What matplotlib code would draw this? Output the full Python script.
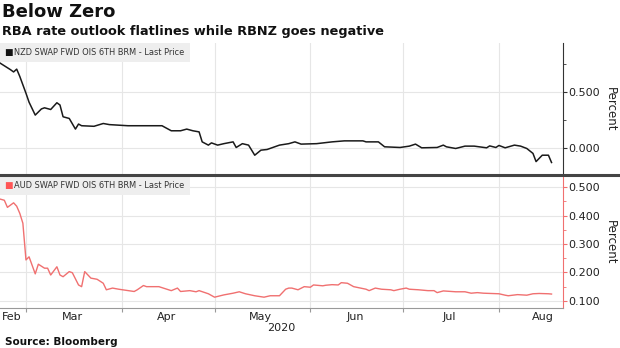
import datetime as dt

import matplotlib.dates as mdates
import matplotlib.pyplot as plt
import pandas as pd
from matplotlib.lines import Line2D
from matplotlib.patches import Rectangle
from matplotlib.ticker import FixedLocator, MultipleLocator

# NZD swap fwd OIS 6th BRM (percent)
nzd_dates = ['2020-02-21', '2020-02-25', '2020-02-26', '2020-02-27', '2020-02-28',
             '2020-03-01', '2020-03-02', '2020-03-04', '2020-03-06', '2020-03-07',
             '2020-03-09', '2020-03-11', '2020-03-12', '2020-03-13', '2020-03-15',
             '2020-03-17', '2020-03-18', '2020-03-19', '2020-03-23', '2020-03-26',
             '2020-03-28', '2020-04-03', '2020-04-14', '2020-04-17', '2020-04-20',
             '2020-04-22', '2020-04-24', '2020-04-26', '2020-04-27', '2020-04-29',
             '2020-04-30', '2020-05-02', '2020-05-04', '2020-05-07', '2020-05-08',
             '2020-05-10', '2020-05-12', '2020-05-14', '2020-05-16', '2020-05-18',
             '2020-05-22', '2020-05-25', '2020-05-27', '2020-05-29', '2020-06-03',
             '2020-06-08', '2020-06-12', '2020-06-18', '2020-06-19', '2020-06-23',
             '2020-06-25', '2020-06-30', '2020-07-03', '2020-07-05', '2020-07-07',
             '2020-07-12', '2020-07-14', '2020-07-15', '2020-07-18', '2020-07-21',
             '2020-07-24', '2020-07-28', '2020-07-29', '2020-07-31', '2020-08-01',
             '2020-08-03', '2020-08-06', '2020-08-08', '2020-08-10', '2020-08-12',
             '2020-08-13', '2020-08-15', '2020-08-17', '2020-08-18']
nzd_vals = [0.77, 0.70, 0.68, 0.705, 0.64,
            0.49, 0.41, 0.295, 0.35, 0.36,
            0.345, 0.405, 0.385, 0.28, 0.265,
            0.17, 0.215, 0.20, 0.195, 0.22,
            0.21, 0.20, 0.20, 0.155, 0.155,
            0.17, 0.155, 0.145, 0.056, 0.027,
            0.047, 0.027, 0.04, 0.056, 0.006,
            0.04, 0.027, -0.063, -0.018, -0.012,
            0.027, 0.04, 0.056, 0.036, 0.04,
            0.056, 0.065, 0.065, 0.056, 0.056,
            0.012, 0.006, 0.018, 0.036, 0.003,
            0.006, 0.027, 0.012, -0.003, 0.018,
            0.018, 0.003, 0.02, 0.006, 0.024,
            0.003, 0.027, 0.018, -0.003, -0.047,
            -0.12, -0.063, -0.063, -0.128]

# AUD swap fwd OIS 6th BRM (percent)
aud_dates = ['2020-02-21', '2020-02-23', '2020-02-24', '2020-02-26', '2020-02-27',
             '2020-02-28', '2020-02-29', '2020-03-01', '2020-03-02', '2020-03-04',
             '2020-03-05', '2020-03-07', '2020-03-08', '2020-03-09', '2020-03-11',
             '2020-03-12', '2020-03-13', '2020-03-15', '2020-03-16', '2020-03-18',
             '2020-03-19', '2020-03-20', '2020-03-22', '2020-03-24', '2020-03-26',
             '2020-03-27', '2020-03-29', '2020-03-31', '2020-04-05', '2020-04-06',
             '2020-04-08', '2020-04-09', '2020-04-13', '2020-04-17', '2020-04-19',
             '2020-04-20', '2020-04-23', '2020-04-25', '2020-04-26', '2020-04-29',
             '2020-05-01', '2020-05-04', '2020-05-07', '2020-05-09', '2020-05-11',
             '2020-05-14', '2020-05-17', '2020-05-19', '2020-05-22', '2020-05-24',
             '2020-05-25', '2020-05-26', '2020-05-28', '2020-05-30', '2020-06-01',
             '2020-06-02', '2020-06-05', '2020-06-06', '2020-06-08', '2020-06-10',
             '2020-06-11', '2020-06-13', '2020-06-15', '2020-06-19', '2020-06-20',
             '2020-06-22', '2020-06-24', '2020-06-27', '2020-06-28', '2020-06-30',
             '2020-07-02', '2020-07-03', '2020-07-06', '2020-07-09', '2020-07-11',
             '2020-07-12', '2020-07-14', '2020-07-18', '2020-07-21', '2020-07-23',
             '2020-07-25', '2020-07-27', '2020-08-01', '2020-08-03', '2020-08-04',
             '2020-08-07', '2020-08-10', '2020-08-12', '2020-08-14', '2020-08-17',
             '2020-08-18']
aud_vals = [0.460, 0.454, 0.429, 0.445, 0.433,
            0.408, 0.373, 0.244, 0.255, 0.195,
            0.229, 0.215, 0.215, 0.191, 0.220,
            0.191, 0.185, 0.203, 0.199, 0.156,
            0.150, 0.203, 0.180, 0.176, 0.162,
            0.139, 0.145, 0.141, 0.133, 0.139,
            0.154, 0.150, 0.150, 0.136, 0.145,
            0.133, 0.136, 0.132, 0.136, 0.125,
            0.113, 0.121, 0.127, 0.132, 0.125,
            0.118, 0.113, 0.118, 0.118, 0.141,
            0.145, 0.145, 0.139, 0.150, 0.148,
            0.156, 0.153, 0.155, 0.157, 0.156,
            0.164, 0.162, 0.150, 0.141, 0.136,
            0.145, 0.141, 0.139, 0.136, 0.141,
            0.145, 0.141, 0.139, 0.136, 0.136,
            0.129, 0.135, 0.132, 0.132, 0.127,
            0.129, 0.127, 0.125, 0.120, 0.118,
            0.122, 0.120, 0.125, 0.126, 0.125,
            0.124]

month_starts = ['2020-03-01', '2020-04-01', '2020-05-01', '2020-06-01',
                '2020-07-01', '2020-08-01']
month_labels = ['Feb', 'Mar', 'Apr', 'May', 'Jun', 'Jul', 'Aug']
month_label_pos = ['2020-02-25 12:00', '2020-03-16 00:00', '2020-04-15 12:00',
                   '2020-05-16 00:00', '2020-06-15 12:00', '2020-07-16 00:00',
                   '2020-08-15 06:00']

nzd_x = pd.to_datetime(nzd_dates)
aud_x = pd.to_datetime(aud_dates)
x_left = dt.datetime(2020, 3, 1) - dt.timedelta(days=8.4)
x_right = dt.datetime(2020, 8, 1) + dt.timedelta(days=20.7)

GRID = '#e6e6e6'
TXT = '#222222'
RED = '#f07070'

fig = plt.figure(figsize=(6.2, 3.48), dpi=100)
ax1 = fig.add_axes([0.0, 0.497, 0.908, 0.380])
ax2 = fig.add_axes([0.0, 0.115, 0.908, 0.379], sharex=ax1)

ax1.plot(nzd_x, nzd_vals, color='#1a1a1a', lw=1.1)
ax2.plot(aud_x, aud_vals, color=RED, lw=1.0)

ax1.set_ylim(-0.24, 0.94)
ax2.set_ylim(0.075, 0.539)
ax1.set_xlim(x_left, x_right)

for ax in (ax1, ax2):
    ax.yaxis.tick_right()
    ax.yaxis.set_label_position('right')
    ax.set_ylabel('Percent', rotation=270, labelpad=12, fontsize=8.5, color=TXT)
    ax.xaxis.set_major_locator(FixedLocator(mdates.date2num(pd.to_datetime(month_starts))))
    ax.grid(True, which='major', color=GRID, lw=0.8)
    ax.set_axisbelow(True)
    for s in ('left', 'top'):
        ax.spines[s].set_visible(False)
    ax.tick_params(axis='y', which='major', length=3, labelsize=8, colors=TXT, pad=1)
    ax.tick_params(axis='y', which='minor', length=2)

ax1.yaxis.set_major_locator(MultipleLocator(0.5))
ax1.yaxis.set_minor_locator(MultipleLocator(0.25))
ax1.yaxis.set_major_formatter(lambda v, p: f'{v:.3f}')
ax1.spines['bottom'].set_visible(False)
ax1.spines['right'].set_color('#333333')
ax1.tick_params(axis='x', which='both', length=0, labelbottom=False)
ax1.tick_params(axis='y', which='both', color='#333333')

ax2.yaxis.set_major_locator(MultipleLocator(0.1))
ax2.yaxis.set_minor_locator(MultipleLocator(0.05))
ax2.yaxis.set_major_formatter(lambda v, p: f'{v:.3f}')
ax2.spines['right'].set_color(RED)
ax2.spines['bottom'].set_color('#999999')
ax2.tick_params(axis='y', which='both', color=RED)
ax2.tick_params(axis='x', which='major', length=3, color='#999999', labelbottom=False)
ax2.xaxis.set_minor_locator(FixedLocator(mdates.date2num(pd.to_datetime(month_label_pos))))
ax2.xaxis.set_minor_formatter(lambda v, p: month_labels[p])
ax2.tick_params(axis='x', which='minor', length=0, labelsize=8, colors=TXT, pad=3)
ax2.text(0.5, -0.115, '2020', transform=ax2.transAxes, ha='center', va='top',
         fontsize=8, color=TXT)

# legend boxes
for ax, label, col in ((ax1, 'NZD SWAP FWD OIS 6TH BRM - Last Price', '#111111'),
                       (ax2, 'AUD SWAP FWD OIS 6TH BRM - Last Price', '#ff5555')):
    ax.add_patch(Rectangle((0, 1), 0.338, -0.145, transform=ax.transAxes,
                           facecolor='#eeeeee', edgecolor='none', zorder=3))
    ax.text(0.008, 1 - 0.0725, '\u25a0', transform=ax.transAxes, va='center',
            fontsize=6.5, color=col, zorder=4)
    ax.text(0.024, 1 - 0.0725, label, transform=ax.transAxes, va='center',
            fontsize=5.95, color='#333333', zorder=4)

# separator between panels
fig.add_artist(Line2D([0, 1], [1 - 175 / 348] * 2, transform=fig.transFigure,
                      color='#444444', lw=2.2))

fig.text(0.004, 0.965, 'Below Zero', fontsize=13, fontweight='bold',
         color='#111111', va='center')
fig.text(0.004, 0.91, 'RBA rate outlook flatlines while RBNZ goes negative',
         fontsize=9.3, fontweight='bold', color='#111111', va='center')
fig.text(0.008, 0.018, 'Source: Bloomberg', fontsize=7.5, fontweight='bold',
         color='#111111', va='center')

fig.savefig('out.png', dpi=100)
